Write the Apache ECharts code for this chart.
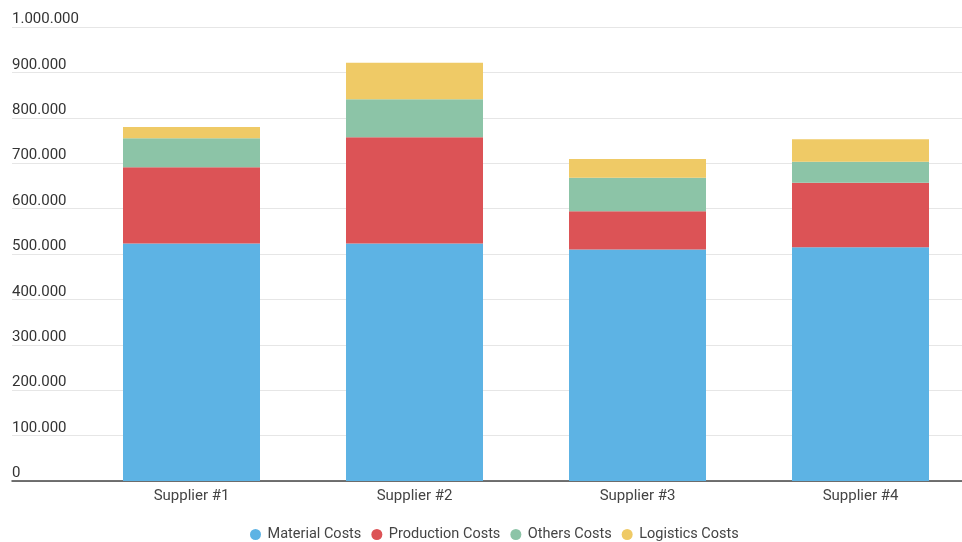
<!DOCTYPE html>
<html>
<head>
<meta charset="utf-8">
<script src="https://cdn.jsdelivr.net/npm/echarts@6/dist/echarts.min.js"></script>
<style>
  html, body { margin: 0; padding: 0; background: #fff; }
  #chart { width: 962px; height: 542px; }
</style>
</head>
<body>
<div id="chart"></div>
<script>
// Cost breakdown per supplier (stacked)
const suppliers = ['Supplier #1', 'Supplier #2', 'Supplier #3', 'Supplier #4'];
const materialCosts = [523000, 523000, 510000, 515000];
const productionCosts = [168000, 234000, 84000, 142000];
const othersCosts = [64000, 84000, 74000, 46000];
const logisticsCosts = [25000, 80000, 41000, 50000];
const seriesNames = ['Material Costs', 'Production Costs', 'Others Costs', 'Logistics Costs'];
const seriesColors = ['#5DB3E4', '#DC5356', '#8CC4A7', '#EFCA66'];

const FONT = 'Roboto, "Noto Sans", sans-serif';
const fmt = v => String(v).replace(/\B(?=(\d{3})+(?!\d))/g, '.');

const chart = echarts.init(document.getElementById('chart'), null, { renderer: 'canvas' });

const valueData = [materialCosts, productionCosts, othersCosts, logisticsCosts];

chart.setOption({
  animation: false,
  textStyle: { fontFamily: FONT },
  legend: {
    top: 522,
    left: 245,
    icon: 'circle',
    itemWidth: 14,
    itemHeight: 11,
    itemGap: 10,
    textStyle: { fontSize: 14.5, color: '#444', fontFamily: FONT },
    data: seriesNames
  },
  grid: [
    // bar area; its right edge runs a little past the canvas
    { left: 80, width: 892, top: 27, bottom: 61, outerBoundsMode: 'none' },
    // gridlines + value labels
    { left: 12, right: 0, top: 27, bottom: 61, outerBoundsMode: 'none' }
  ],
  xAxis: [
    {
      type: 'category', gridIndex: 0, data: suppliers,
      axisLine: { show: false }, axisTick: { show: false },
      axisLabel: { fontSize: 15, color: '#444', margin: 8, fontFamily: FONT }
    },
    {
      type: 'value', gridIndex: 1, min: 0, max: 1,
      axisLine: { show: true, onZero: false, lineStyle: { color: '#444', width: 1.5 } },
      axisTick: { show: false }, axisLabel: { show: false }, splitLine: { show: false }
    }
  ],
  yAxis: [
    {
      type: 'value', gridIndex: 0, min: 0, max: 1000000, interval: 100000,
      show: false
    },
    {
      type: 'value', gridIndex: 1, min: 0, max: 1000000, interval: 100000,
      axisLine: { show: false }, axisTick: { show: false },
      axisLabel: {
        inside: true, margin: 0, align: 'left', verticalAlign: 'bottom',
        padding: [0, 0, 0, 0],
        fontSize: 15, color: '#333', fontFamily: FONT,
        formatter: fmt
      },
      splitLine: { show: true, lineStyle: { color: '#e6e6e6', width: 1 } }
    }
  ],
  series: seriesNames.map((name, i) => ({
    name,
    type: 'bar',
    stack: 'total',
    xAxisIndex: 0,
    yAxisIndex: 0,
    barWidth: 137,
    itemStyle: { color: seriesColors[i] },
    data: valueData[i]
  }))
});
</script>
</body>
</html>
